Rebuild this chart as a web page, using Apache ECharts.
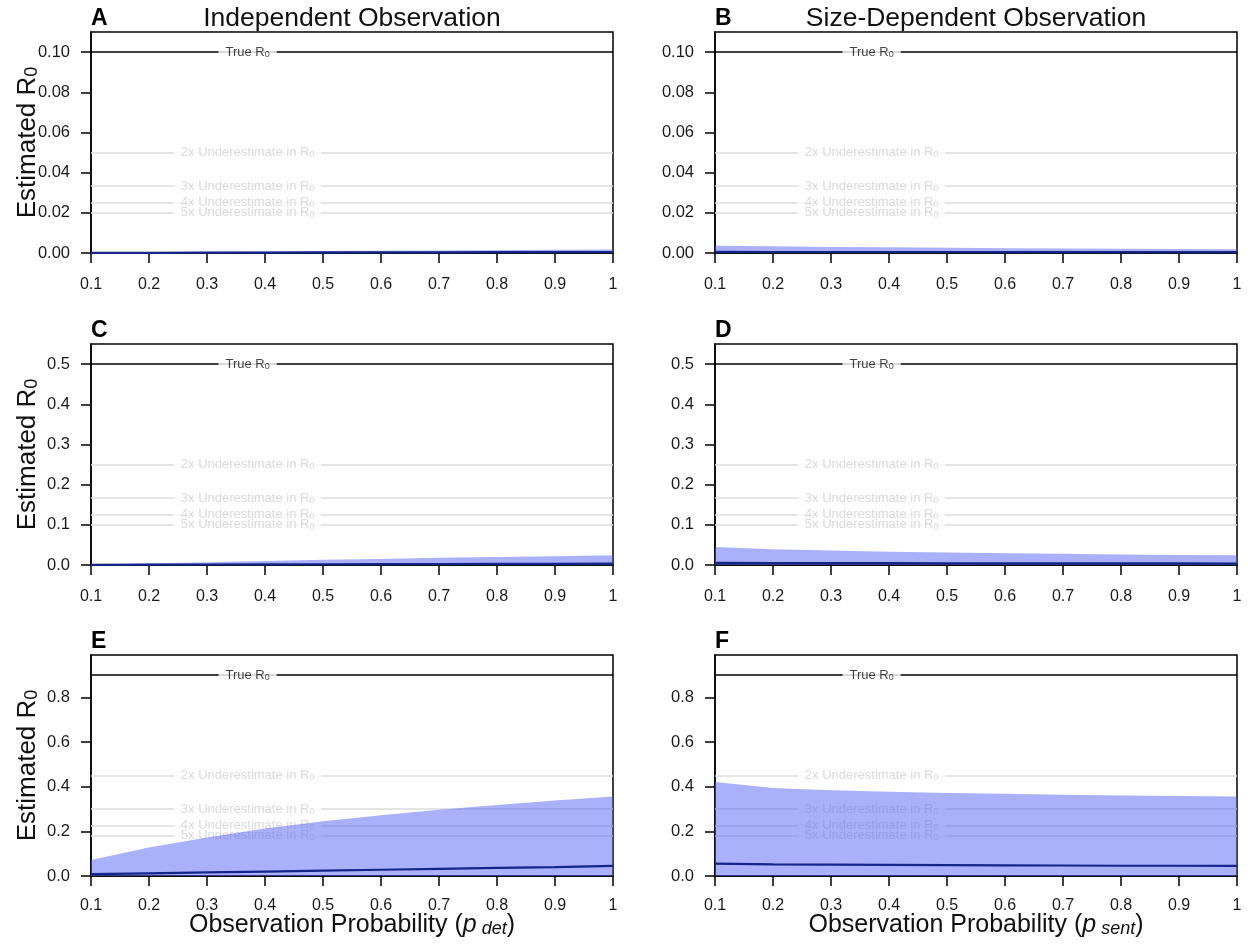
<!DOCTYPE html>
<html><head><meta charset="utf-8">
<script src="https://cdn.jsdelivr.net/npm/echarts@6/dist/echarts.min.js"></script>
<style>html,body{margin:0;padding:0;background:#fff}#c{width:1248px;height:945px}</style>
</head><body><div id="c"></div>
<script>
// ---------- data ----------
const xValues = [0.1, 0.2, 0.3, 0.4, 0.5, 0.6, 0.7, 0.8, 0.9, 1.0];
const xTickValues = [0.1, 0.2, 0.3, 0.4, 0.5, 0.6, 0.7, 0.8, 0.9, 1.0];
const panelLetters = ['A', 'B', 'C', 'D', 'E', 'F'];
const columnTitles = ['Independent Observation', 'Size-Dependent Observation'];
const xAxisSubscripts = ['det', 'sent'];
const trueR0 = [0.1, 0.1, 0.5, 0.5, 0.9, 0.9];
const underFactors = [2, 3, 4, 5];
const yTicksRow1 = [0, 0.02, 0.04, 0.06, 0.08, 0.10];
const yTicksRow2 = [0, 0.1, 0.2, 0.3, 0.4, 0.5];
const yTicksRow3 = [0, 0.2, 0.4, 0.6, 0.8];

// median estimate and upper bound of the interval (lower bound ~ 0)
const medianA = [0.0001, 0.0001, 0.0002, 0.0002, 0.0003, 0.0003, 0.0003, 0.0004, 0.0004, 0.0005];
const upperA  = [0.0002, 0.0004, 0.0006, 0.0008, 0.0010, 0.0011, 0.0013, 0.0014, 0.0016, 0.0017];
const medianB = [0.0006, 0.0005, 0.0005, 0.0005, 0.0005, 0.0004, 0.0004, 0.0004, 0.0004, 0.0004];
const upperB  = [0.0036, 0.0033, 0.0030, 0.0028, 0.0026, 0.0024, 0.0023, 0.0021, 0.0020, 0.0019];
const medianC = [0.0003, 0.0008, 0.0012, 0.0016, 0.0019, 0.0022, 0.0025, 0.0028, 0.0030, 0.0033];
const upperC  = [0.0008, 0.004, 0.007, 0.010, 0.013, 0.015, 0.018, 0.020, 0.022, 0.024];
const medianD = [0.0055, 0.0050, 0.0047, 0.0045, 0.0043, 0.0041, 0.0040, 0.0039, 0.0038, 0.0037];
const upperD  = [0.045, 0.039, 0.036, 0.033, 0.031, 0.029, 0.028, 0.026, 0.025, 0.024];
const medianE = [0.008, 0.012, 0.016, 0.020, 0.024, 0.028, 0.032, 0.036, 0.040, 0.045];
const upperE  = [0.072, 0.128, 0.172, 0.213, 0.245, 0.272, 0.297, 0.318, 0.338, 0.356];
const medianF = [0.055, 0.052, 0.051, 0.050, 0.049, 0.048, 0.047, 0.046, 0.046, 0.045];
const upperF  = [0.421, 0.394, 0.384, 0.377, 0.372, 0.368, 0.364, 0.361, 0.358, 0.356];

const medians = [medianA, medianB, medianC, medianD, medianE, medianF];
const uppers = [upperA, upperB, upperC, upperD, upperE, upperF];
const yTicksByRow = [yTicksRow1, yTicksRow2, yTicksRow3];
const yDecimals = [2, 1, 1];

// ---------- layout ----------
const FONT = 'Liberation Sans, Arial, Helvetica, sans-serif';
const colLeft = [91, 715];
const rowTop = [32, 344, 655];
const plotW = 522, plotH = 221;
const labelX = 0.37;
const refColor = '#dcdcdc';
const refTextColor = '#d2d2d2';

const grids = [], xAxes = [], yAxes = [], series = [], graphics = [];

for (let i = 0; i < 6; i++) {
  const row = Math.floor(i / 2), col = i % 2;
  const R0 = trueR0[i];
  grids.push({ left: colLeft[col], top: rowTop[row], width: plotW, height: plotH,
    show: true, borderColor: '#000', borderWidth: 1.5, backgroundColor: 'transparent', containLabel: false });

  const xa = {
    type: 'value', gridIndex: i, min: 0.1, max: 1,
    axisLine: { show: true, onZero: false, lineStyle: { color: '#000', width: 1.5 } },
    axisTick: { show: true, inside: false, length: 10, lineStyle: { color: '#000', width: 1.5 }, customValues: xTickValues },
    axisLabel: { show: true, margin: row === 2 ? 22 : 24, fontSize: 16, color: '#1a1a1a', fontFamily: FONT, customValues: xTickValues,
      formatter: v => String(Math.round(v * 10) / 10) },
    splitLine: { show: false }
  };
  if (row === 2) {
    xa.name = '{a|Observation Probability (}{i|p}{s| ' + xAxisSubscripts[col] + '}{a|)}';
    xa.nameLocation = 'middle';
    xa.nameGap = 35;
    xa.nameMoveOverlap = false;
    xa.nameTextStyle = { rich: {
      a: { fontSize: 25, fontFamily: FONT, color: '#111', lineHeight: 27, verticalAlign: 'bottom' },
      i: { fontSize: 25, fontFamily: FONT, fontStyle: 'italic', color: '#111', lineHeight: 27, verticalAlign: 'bottom' },
      s: { fontSize: 18, fontFamily: FONT, fontStyle: 'italic', color: '#111', lineHeight: 18, verticalAlign: 'bottom' }
    } };
  }
  xAxes.push(xa);

  const ticks = yTicksByRow[row];
  const dec = yDecimals[row];
  const ya = {
    type: 'value', gridIndex: i, min: 0, max: R0 * 1.1,
    axisLine: { show: true, onZero: false, lineStyle: { color: '#000', width: 1.5 } },
    axisTick: { show: true, inside: false, length: 10, lineStyle: { color: '#000', width: 1.5 }, customValues: ticks },
    axisLabel: { show: true, margin: 21, fontSize: 16.5, color: '#1a1a1a', fontFamily: FONT, customValues: ticks,
      formatter: v => Number(v).toFixed(dec) },
    splitLine: { show: false }
  };
  if (col === 0) {
    ya.name = '{a|Estimated R}{s|0}';
    ya.nameLocation = 'middle';
    ya.nameRotate = 90;
    ya.nameGap = 50;
    ya.nameMoveOverlap = false;
    ya.nameTextStyle = { rich: {
      a: { fontSize: 26, fontFamily: FONT, color: '#111', lineHeight: 28, verticalAlign: 'bottom' },
      s: { fontSize: 18, fontFamily: FONT, color: '#111', lineHeight: 18, verticalAlign: 'bottom' }
    } };
  }
  yAxes.push(ya);

  // reference lines: true R0 and 2x..5x underestimates
  series.push({
    type: 'line', xAxisIndex: i, yAxisIndex: i, z: 1,
    symbol: 'none', silent: true, lineStyle: { opacity: 0 },
    data: [],
    markLine: {
      z: 1, silent: true, symbol: 'none', animation: false, precision: 10, label: { show: false },
      data: [{ yAxis: R0, lineStyle: { color: '#000', width: 1.5, type: 'solid' } }]
        .concat(underFactors.map(f => ({ yAxis: R0 / f, lineStyle: { color: refColor, width: 1.5, type: 'solid' } })))
    }
  });

  const labelItems = [{ value: [labelX, R0], txt: '{t|True R}{s|0}', isTrue: true }]
    .concat(underFactors.map(f => ({ value: [labelX, R0 / f], txt: '{t|' + f + 'x Underestimate in R}{s|0}', isTrue: false })));

  // label backgrounds (make the gap in the lines)
  series.push({
    type: 'scatter', xAxisIndex: i, yAxisIndex: i, z: 2, silent: true, symbolSize: 1,
    itemStyle: { color: 'rgba(0,0,0,0)' },
    data: labelItems.map(it => ({ value: it.value, label: {
      show: true, position: 'inside', formatter: it.txt, backgroundColor: '#fff', padding: [0, 7],
      rich: { t: { fontSize: 13, fontFamily: FONT, color: 'rgba(0,0,0,0)', lineHeight: 13, verticalAlign: 'bottom' },
              s: { fontSize: 9, fontFamily: FONT, color: 'rgba(0,0,0,0)', lineHeight: 9, verticalAlign: 'bottom' } } } }))
  });
  // label texts
  series.push({
    type: 'scatter', xAxisIndex: i, yAxisIndex: i, z: 3, silent: true, symbolSize: 1,
    itemStyle: { color: 'rgba(0,0,0,0)' },
    data: labelItems.map(it => { const c = it.isTrue ? '#111' : refTextColor; return { value: it.value, label: {
      show: true, position: 'inside', formatter: it.txt, padding: [0, 7],
      rich: { t: { fontSize: 13, fontFamily: FONT, color: c, lineHeight: 13, verticalAlign: 'bottom' },
              s: { fontSize: 9, fontFamily: FONT, color: c, lineHeight: 9, verticalAlign: 'bottom' } } } }; })
  });

  // ribbon: from 0 up to the upper bound
  series.push({
    type: 'line', xAxisIndex: i, yAxisIndex: i, z: 4,
    symbol: 'none', silent: true, lineStyle: { opacity: 0 },
    areaStyle: { color: 'rgba(85,100,245,0.5)', opacity: 1, origin: 'start' },
    data: xValues.map((x, k) => [x, uppers[i][k]])
  });
  // median line
  series.push({
    type: 'line', xAxisIndex: i, yAxisIndex: i, z: 5, symbol: 'none', silent: true,
    lineStyle: { color: '#14268a', width: 2.2 },
    data: xValues.map((x, k) => [x, medians[i][k]])
  });

  graphics.push({ type: 'text', x: colLeft[col], y: rowTop[row] - 13, style: {
    text: panelLetters[i], font: 'bold 23px ' + FONT, fill: '#000', align: 'left', verticalAlign: 'middle' } });
}
for (let c = 0; c < 2; c++) {
  graphics.push({ type: 'text', x: colLeft[c] + plotW / 2, y: 19, style: {
    text: columnTitles[c], font: '26.5px ' + FONT, fill: '#111', align: 'center', verticalAlign: 'middle' } });
}

const chart = echarts.init(document.getElementById('c'), null, { renderer: 'canvas' });
chart.setOption({
  animation: false,
  backgroundColor: '#fff',
  grid: grids, xAxis: xAxes, yAxis: yAxes, series: series, graphic: graphics
});
</script></body></html>
